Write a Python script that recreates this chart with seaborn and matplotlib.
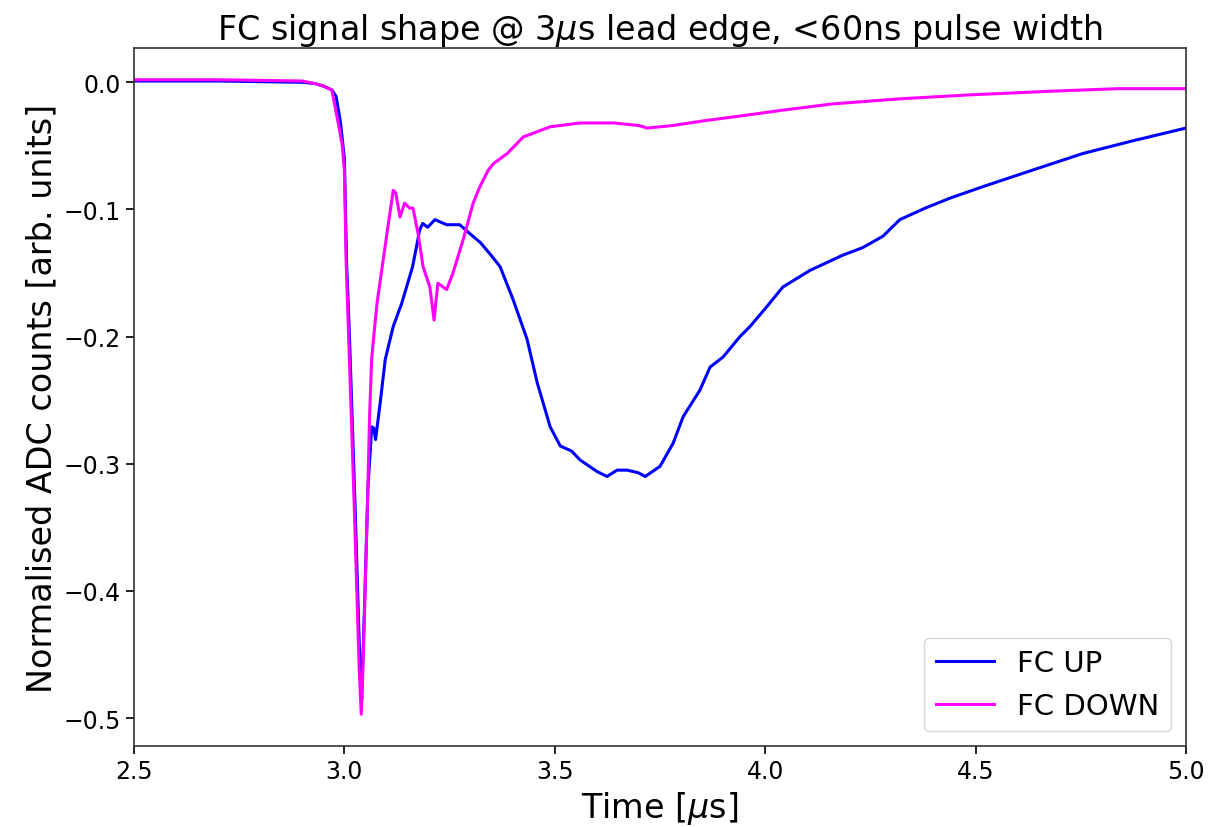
import numpy as np
import pandas as pd
import matplotlib
matplotlib.use('Agg')
import matplotlib.pyplot as plt
import seaborn as sns

# FC UP waveform (time in us, normalised ADC counts)
t_up = [2.50, 2.70, 2.90, 2.93, 2.95, 2.97, 2.98, 2.99, 3.000, 3.005, 3.012, 3.025,
        3.037, 3.041, 3.047, 3.056, 3.065, 3.070, 3.074, 3.085, 3.097, 3.116, 3.136,
        3.162, 3.179, 3.186, 3.198, 3.215, 3.243, 3.274, 3.298, 3.323, 3.346, 3.370,
        3.401, 3.434, 3.458, 3.489, 3.513, 3.540, 3.560, 3.600, 3.624, 3.648, 3.672,
        3.698, 3.715, 3.750, 3.781, 3.805, 3.845, 3.869, 3.900, 3.940, 3.964, 4.000,
        4.042, 4.106, 4.184, 4.232, 4.280, 4.320, 4.380, 4.440, 4.518, 4.636, 4.755,
        4.874, 5.0]
v_up = [0.001, 0.001, 0.000, -0.001, -0.003, -0.006, -0.011, -0.030, -0.060, -0.140,
        -0.200, -0.330, -0.460, -0.485, -0.420, -0.318, -0.271, -0.272, -0.281, -0.252,
        -0.218, -0.192, -0.174, -0.145, -0.116, -0.111, -0.114, -0.108, -0.112, -0.112,
        -0.119, -0.126, -0.135, -0.145, -0.171, -0.202, -0.236, -0.271, -0.286, -0.290,
        -0.297, -0.306, -0.310, -0.305, -0.305, -0.307, -0.310, -0.302, -0.284, -0.263,
        -0.242, -0.224, -0.216, -0.200, -0.192, -0.178, -0.161, -0.148, -0.136, -0.130,
        -0.121, -0.108, -0.099, -0.091, -0.082, -0.069, -0.056, -0.046, -0.036]

# FC DOWN waveform
t_down = [2.50, 2.70, 2.90, 2.93, 2.95, 2.97, 2.987, 2.995, 3.000, 3.004, 3.010, 3.023,
          3.035, 3.040, 3.044, 3.053, 3.060, 3.065, 3.077, 3.092, 3.101, 3.116, 3.122,
          3.132, 3.143, 3.155, 3.163, 3.175, 3.187, 3.203, 3.213, 3.222, 3.243, 3.258,
          3.282, 3.306, 3.322, 3.342, 3.354, 3.387, 3.425, 3.489, 3.560, 3.640, 3.700,
          3.720, 3.780, 3.860, 3.930, 4.040, 4.160, 4.320, 4.480, 4.680, 4.840, 5.0]
v_down = [0.002, 0.002, 0.001, -0.001, -0.003, -0.006, -0.035, -0.050, -0.070, -0.140,
          -0.200, -0.330, -0.460, -0.497, -0.460, -0.354, -0.260, -0.216, -0.175, -0.140,
          -0.119, -0.085, -0.087, -0.106, -0.095, -0.099, -0.099, -0.119, -0.145, -0.161,
          -0.187, -0.158, -0.163, -0.150, -0.124, -0.095, -0.082, -0.069, -0.064, -0.056,
          -0.043, -0.035, -0.032, -0.032, -0.034, -0.036, -0.034, -0.030, -0.027, -0.022,
          -0.017, -0.013, -0.010, -0.007, -0.005, -0.005]

LABELS = ['FC UP', 'FC DOWN']
COLORS = {'FC UP': '#0000ff', 'FC DOWN': '#ff00ff'}


def build_frame():
    up = pd.DataFrame({'t': t_up, 'v': v_up, 'channel': LABELS[0]})
    down = pd.DataFrame({'t': t_down, 'v': v_down, 'channel': LABELS[1]})
    return pd.concat([up, down], ignore_index=True)


def main():
    df = build_frame()
    fig = plt.figure(figsize=(12.12, 8.28), dpi=100)
    ax = fig.add_axes([0.1106, 0.0978, 0.8679, 0.843])

    sns.lineplot(data=df, x='t', y='v', hue='channel', hue_order=LABELS,
                 palette=COLORS, estimator=None, sort=False, lw=2.2, ax=ax)

    ax.set_xlim(2.5, 5.0)
    ax.set_title(r'FC signal shape @ 3$\mu$s lead edge, <60ns pulse width', fontsize=24)
    ax.set_xlabel(r'Time [$\mu$s]', fontsize=24)
    ax.set_ylabel('Normalised ADC counts [arb. units]', fontsize=24)
    ax.tick_params(labelsize=17, length=6, width=1.2)
    for sp in ax.spines.values():
        sp.set_linewidth(1.2)
        sp.set_color('#333333')
    ax.legend(loc='lower right', fontsize=21, title=None)

    fig.savefig('out.png', dpi=100)


if __name__ == '__main__':
    main()
